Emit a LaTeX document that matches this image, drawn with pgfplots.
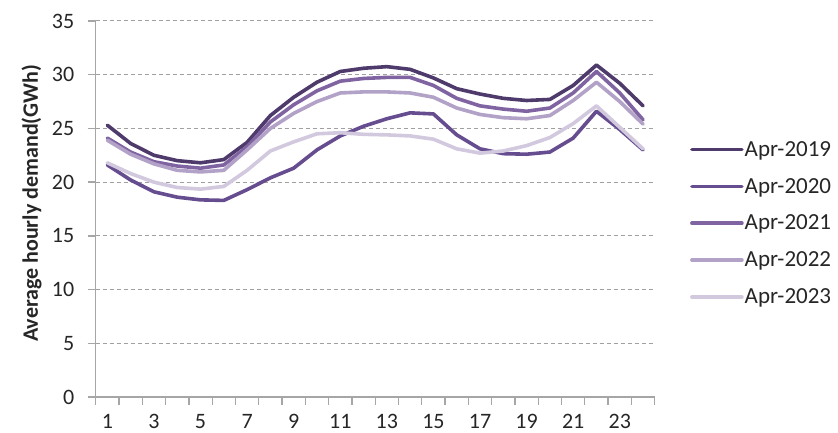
\documentclass[border=0pt]{standalone}
\usepackage{fontspec}
\setmainfont{Carlito}
\usepackage{pgfplots}
\pgfplotsset{compat=1.18}

\definecolor{c19}{HTML}{4E3B6C}
\definecolor{c20}{HTML}{654D8F}
\definecolor{c21}{HTML}{8064A2}
\definecolor{c22}{HTML}{B3A2C7}
\definecolor{c23}{HTML}{D2C9DF}
\definecolor{axisgray}{HTML}{A6A6A6}
\definecolor{gridgray}{HTML}{A0A0A0}
\definecolor{txt}{HTML}{262626}

\begin{document}
\begin{tikzpicture}
\useasboundingbox (-95.7pt,-36pt) rectangle (742.3pt,397pt);
\begin{axis}[
    scale only axis,
    width=559pt, height=376pt,
    xmin=0.5, xmax=24.5,
    ymin=0, ymax=35,
    axis x line*=bottom, axis y line*=left,
    axis line style={draw=axisgray, line width=1.3pt},
    tick align=outside,
    major tick length=8pt,
    tick style={draw=axisgray, line width=1.3pt},
    xtick={0.5,1.5,...,24.5},
    xticklabels={},
    extra x ticks={1,3,...,23},
    extra x tick style={major tick length=0pt},
    ytick={0,5,...,35},
    ymajorgrids,
    grid style={draw=gridgray, line width=1pt, dash pattern=on 4pt off 3pt},
    /pgf/number format/assume math mode=true,
    tick label style={font=\fontsize{22}{26}\selectfont, text=txt},
    x tick label style={yshift=-14pt},
    y tick label style={xshift=-10pt},
    every axis y label/.style={at={(axis description cs:-0.1148,0.515)}, anchor=center, rotate=90},
    ylabel={\bfseries Average hourly demand(GWh)},
    ylabel style={font=\fontsize{22}{26}\selectfont, text=txt},
    legend style={at={(rel axis cs:1.063,0.462)}, anchor=west, draw=none, fill=none,
        inner sep=0pt, row sep=18.5pt, font=\fontsize{23}{27}\selectfont, text=txt,
        nodes={inner sep=1pt}},
    legend cell align=left,
    legend image code/.code={\draw[#1] (0pt,0pt) -- (50pt,0pt);},
    every axis plot/.append style={line width=3.6pt, line join=round, line cap=round, mark=none},
]
\addplot[c19] coordinates {
    (1,25.3) (2,23.6) (3,22.5) (4,22.0) (5,21.8) (6,22.1) (7,23.7) (8,26.2)
    (9,27.9) (10,29.3) (11,30.3) (12,30.6) (13,30.75) (14,30.5) (15,29.7) (16,28.7)
    (17,28.2) (18,27.8) (19,27.6) (20,27.7) (21,29.0) (22,30.9) (23,29.2) (24,27.1)
};
\addlegendentry{Apr-2019}
\addplot[c20] coordinates {
    (1,21.6) (2,20.2) (3,19.1) (4,18.6) (5,18.35) (6,18.3) (7,19.3) (8,20.4)
    (9,21.3) (10,23.0) (11,24.3) (12,25.2) (13,25.9) (14,26.45) (15,26.35) (16,24.4)
    (17,23.1) (18,22.65) (19,22.6) (20,22.8) (21,24.1) (22,26.6) (23,24.9) (24,23.0)
};
\addlegendentry{Apr-2020}
\addplot[c21] coordinates {
    (1,24.1) (2,22.8) (3,21.9) (4,21.5) (5,21.3) (6,21.6) (7,23.3) (8,25.6)
    (9,27.2) (10,28.5) (11,29.4) (12,29.65) (13,29.75) (14,29.75) (15,29.0) (16,27.8)
    (17,27.1) (18,26.8) (19,26.6) (20,26.9) (21,28.3) (22,30.3) (23,28.3) (24,25.8)
};
\addlegendentry{Apr-2021}
\addplot[c22] coordinates {
    (1,23.9) (2,22.6) (3,21.7) (4,21.1) (5,20.95) (6,21.1) (7,23.0) (8,25.0)
    (9,26.4) (10,27.5) (11,28.3) (12,28.4) (13,28.4) (14,28.3) (15,27.9) (16,26.9)
    (17,26.3) (18,26.0) (19,25.9) (20,26.2) (21,27.6) (22,29.3) (23,27.5) (24,25.4)
};
\addlegendentry{Apr-2022}
\addplot[c23] coordinates {
    (1,21.8) (2,20.8) (3,20.0) (4,19.5) (5,19.35) (6,19.6) (7,21.1) (8,22.9)
    (9,23.75) (10,24.5) (11,24.6) (12,24.45) (13,24.4) (14,24.3) (15,24.0) (16,23.1)
    (17,22.7) (18,22.9) (19,23.4) (20,24.15) (21,25.45) (22,27.1) (23,25.1) (24,23.1)
};
\addlegendentry{Apr-2023}
\end{axis}
\end{tikzpicture}
\end{document}
